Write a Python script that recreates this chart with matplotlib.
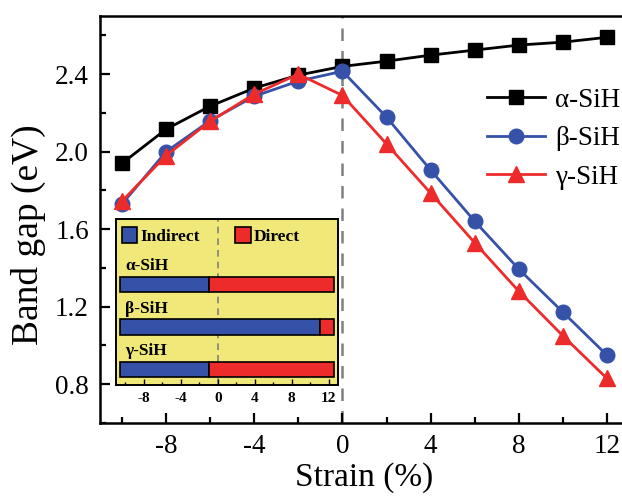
import matplotlib
matplotlib.use("Agg")
import matplotlib.pyplot as plt
from matplotlib.ticker import MultipleLocator
from matplotlib.patches import Patch

plt.rcParams['font.family'] = ['Liberation Serif', 'DejaVu Serif']
plt.rcParams['axes.unicode_minus'] = False

strain = [-10, -8, -6, -4, -2, 0, 2, 4, 6, 8, 10, 12]
alpha_gap = [1.94, 2.116, 2.235, 2.328, 2.395, 2.44, 2.467, 2.498, 2.524, 2.55, 2.565, 2.59]
beta_gap = [1.73, 2.00, 2.16, 2.286, 2.364, 2.415, 2.178, 1.905, 1.641, 1.394, 1.172, 0.95]
gamma_gap = [1.745, 1.98, 2.157, 2.297, 2.40, 2.29, 2.04, 1.786, 1.53, 1.28, 1.05, 0.83]
series_names = ['α-SiH', 'β-SiH', 'γ-SiH']

# inset: indirect/direct ranges
inset_names = ['α-SiH', 'β-SiH', 'γ-SiH']
transition = [-1.0, 11.0, -1.0]
range_lo, range_hi = -10.6, 12.6

BLUE = '#3552A8'
RED = '#EE2B2B'
YELLOW = '#F0E878'

fig = plt.figure(figsize=(6.22, 4.96), dpi=100)
ax = fig.add_axes([100/622, 73/496, 529/622, 407/496])

ax.axvline(0, color='#808080', ls=(0, (5, 4)), lw=1.8, zorder=1)
ax.plot(strain, alpha_gap, '-s', color='black', lw=2.0, ms=9.5, label=series_names[0], zorder=3)
ax.plot(strain, beta_gap, '-o', color=BLUE, lw=2.0, ms=10.5, label=series_names[1], zorder=4)
ax.plot(strain, gamma_gap, '-^', color=RED, lw=2.0, ms=11.5, label=series_names[2], zorder=5)

ax.set_xlim(-11, 13)
ax.set_ylim(0.6, 2.7)
ax.xaxis.set_major_locator(MultipleLocator(4))
ax.xaxis.set_minor_locator(MultipleLocator(2))
ax.yaxis.set_major_locator(MultipleLocator(0.4))
ax.yaxis.set_minor_locator(MultipleLocator(0.2))
ax.tick_params(which='both', direction='in', width=1.6, labelsize=19.5, top=False, right=False)
ax.tick_params(which='major', length=7, pad=8)
ax.tick_params(which='minor', length=4)
for s in ax.spines.values():
    s.set_linewidth(1.8)
ax.set_xlabel('Strain (%)', fontsize=24)
ax.set_ylabel('Band gap (eV)', fontsize=27)
ax.xaxis.set_label_coords(0.5, -0.097)
ax.yaxis.set_label_coords(-0.102, 0.462)

leg = ax.legend(loc='upper right', bbox_to_anchor=(1.004, 0.85), borderaxespad=0, frameon=False,
                fontsize=19.5, handlelength=2.15, labelspacing=0.5, handletextpad=0.37)

# inset
ins = fig.add_axes([116/622, (496-385)/496, 222/622, 166/496])
ins.set_facecolor(YELLOW)
ins.axvline(0, color='#808080', ls=(0, (4, 3)), lw=1.2, zorder=1)
ypos = [0, 1, 2]
for i, name in enumerate(inset_names):
    ins.barh(ypos[i], transition[i] - range_lo, left=range_lo, height=0.36,
             color=BLUE, edgecolor='black', lw=1.2, zorder=2)
    ins.barh(ypos[i], range_hi - transition[i], left=transition[i], height=0.36,
             color=RED, edgecolor='black', lw=1.2, zorder=2)
    ins.text(-10.0, ypos[i] - 0.43, name, fontsize=12.5, fontweight='bold', ha='left', va='center')
ins.set_xlim(-11, 13)
ins.set_ylim(2.36, -1.54)
ins.set_yticks([])
ins.xaxis.set_major_locator(MultipleLocator(4))
ins.xaxis.set_minor_locator(MultipleLocator(2))
ins.tick_params(which='both', direction='in', width=1.0, labelsize=11, pad=5)
ins.tick_params(which='major', length=4)
ins.tick_params(which='minor', length=2.5)
for lab in ins.get_xticklabels():
    lab.set_fontweight('bold')
for s in ins.spines.values():
    s.set_linewidth(1.4)
handles = [Patch(facecolor=BLUE, edgecolor='black', lw=1.2, label='Indirect'),
           Patch(facecolor=RED, edgecolor='black', lw=1.2, label='Direct')]
ins.legend(handles=handles, loc='upper left', bbox_to_anchor=(-0.045, 1.045), ncol=2, frameon=False,
           prop={'weight': 'bold', 'size': 12.5}, handlelength=0.9, handleheight=1.0,
           handletextpad=0.2, columnspacing=2.0)

fig.savefig('out.png', dpi=100)
